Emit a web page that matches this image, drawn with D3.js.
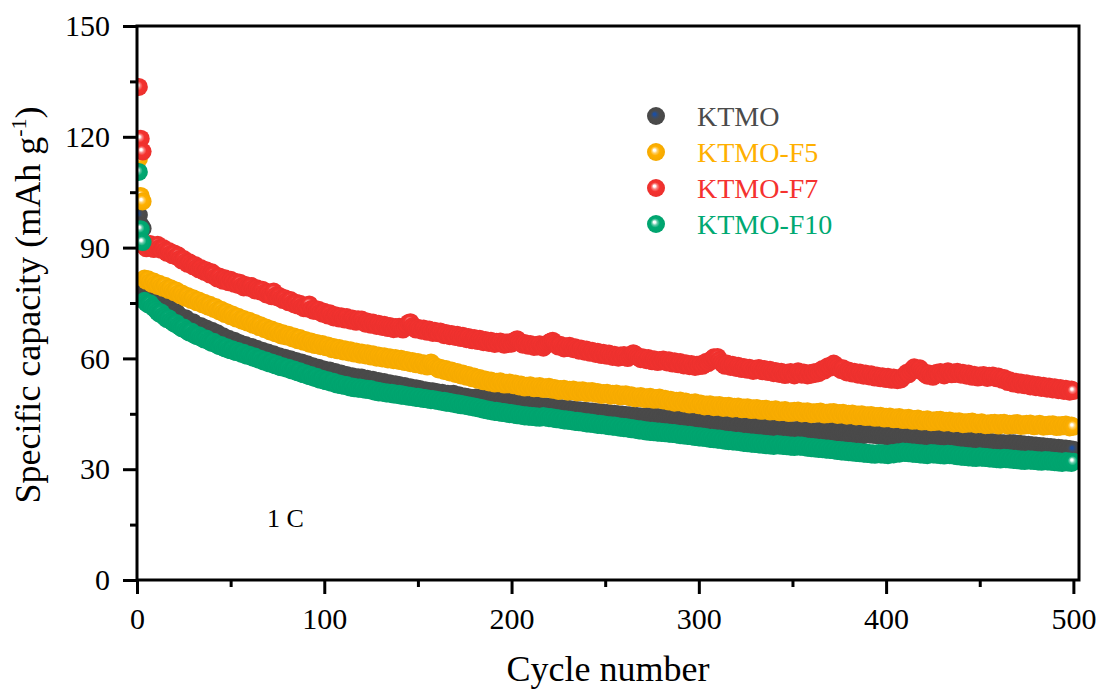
<!DOCTYPE html>
<html>
<head>
<meta charset="utf-8">
<script src="https://cdn.jsdelivr.net/npm/d3@7"></script>
<style>
  body { margin: 0; background: #fff; }
  svg { display: block; }
  text { font-family: "Liberation Serif", "Times New Roman", serif; }
</style>
</head>
<body>
<svg id="chart" width="1102" height="691"></svg>
<script>
// Discharge capacity (mAh g-1) per cycle at 1 C, cycles 1..500
const cycles = d3.range(1, 501);

const ktmo = [
  98.8, 96.0, 95.2, 78.0, 77.4, 77.0, 76.6, 76.9, 76.1, 75.7, 75.2, 74.7, 75.0, 74.3, 73.9, 73.5, 73.8, 73.1, 72.7, 72.3,
  72.5, 71.8, 71.3, 71.0, 70.6, 70.9, 70.2, 69.8, 69.5, 69.8, 69.1, 68.8, 68.5, 68.8, 68.2, 67.9, 68.1, 67.5, 67.2, 67.5,
  66.9, 66.5, 66.8, 66.1, 65.8, 66.0, 65.4, 65.1, 65.3, 64.7, 64.5, 64.8, 64.2, 63.9, 64.1, 63.6, 63.3, 63.6, 63.0, 62.8,
  63.1, 62.6, 62.3, 62.6, 62.1, 61.8, 62.1, 61.5, 61.3, 61.6, 61.0, 60.8, 61.1, 60.6, 60.3, 60.6, 60.1, 59.8, 60.2, 59.7,
  59.5, 59.8, 59.3, 59.0, 59.3, 58.8, 58.5, 58.9, 58.3, 58.0, 58.4, 57.8, 57.6, 57.9, 57.4, 57.1, 57.5, 56.9, 56.7, 57.0,
  56.5, 56.3, 56.7, 56.1, 55.9, 56.3, 55.7, 55.5, 55.9, 55.3, 55.1, 55.5, 55.0, 54.8, 55.2, 54.7, 54.5, 54.9, 54.4, 54.8,
  54.3, 54.1, 54.5, 54.0, 53.8, 54.2, 53.7, 53.5, 53.9, 53.4, 53.2, 53.6, 53.1, 52.9, 53.3, 52.8, 52.6, 53.0, 52.5, 52.8,
  52.3, 52.1, 52.5, 52.0, 51.8, 52.2, 51.7, 51.5, 51.9, 51.4, 51.7, 51.2, 51.0, 51.4, 50.9, 51.2, 50.8, 51.1, 50.6, 50.9,
  50.5, 50.3, 50.7, 50.2, 50.0, 50.4, 49.9, 50.2, 50.4, 49.8, 49.6, 50.0, 49.5, 49.3, 49.7, 49.2, 49.5, 49.0, 49.3, 48.9,
  49.4, 49.0, 49.3, 48.9, 49.2, 48.8, 49.1, 48.7, 49.0, 48.5, 48.8, 48.4, 48.7, 48.3, 48.6, 48.1, 48.5, 48.0, 48.3, 47.9,
  48.2, 47.8, 48.1, 47.6, 47.9, 47.5, 47.8, 47.3, 47.6, 47.2, 47.5, 47.0, 47.4, 46.9, 47.2, 46.8, 47.1, 46.7, 47.0, 46.6,
  46.9, 46.5, 46.8, 46.3, 46.6, 46.2, 46.5, 46.1, 46.4, 45.9, 46.3, 45.8, 46.1, 45.7, 46.0, 45.6, 45.9, 45.5, 45.8, 45.4,
  45.7, 45.3, 45.6, 45.2, 45.5, 45.1, 45.4, 45.0, 45.3, 44.9, 45.2, 44.8, 45.1, 44.7, 45.0, 44.6, 44.9, 44.5, 44.8, 44.4,
  44.7, 44.3, 44.6, 44.2, 44.5, 44.1, 44.4, 44.0, 44.3, 43.9, 44.2, 44.4, 44.0, 44.3, 43.9, 44.2, 43.8, 44.1, 43.7, 44.0,
  43.6, 43.9, 44.1, 43.7, 44.0, 43.6, 43.9, 43.5, 43.8, 43.4, 43.7, 43.3, 43.5, 43.1, 43.4, 43.0, 43.3, 42.9, 43.1, 42.7,
  43.0, 42.6, 42.8, 42.4, 42.7, 42.3, 42.5, 42.1, 42.4, 42.0, 42.3, 41.9, 42.1, 41.8, 42.0, 41.6, 41.9, 41.5, 41.8, 41.5,
  41.8, 41.4, 41.7, 41.3, 41.6, 41.8, 41.4, 41.7, 41.3, 41.6, 41.2, 41.5, 41.1, 41.4, 41.0, 41.3, 40.9, 41.2, 40.8, 41.1,
  40.7, 41.0, 40.6, 40.9, 40.5, 40.8, 40.4, 40.7, 40.3, 40.6, 40.2, 40.5, 40.7, 40.3, 40.6, 40.2, 40.5, 40.1, 40.4, 40.0,
  40.3, 39.9, 40.2, 40.4, 40.0, 40.3, 39.9, 40.2, 40.5, 40.1, 40.4, 40.0, 40.3, 39.9, 40.2, 39.8, 40.1, 39.7, 40.0, 39.6,
  39.9, 39.5, 39.8, 39.4, 39.7, 39.3, 39.6, 39.2, 39.5, 39.8, 39.4, 39.7, 39.3, 39.6, 39.2, 39.5, 39.1, 39.4, 39.0, 39.3,
  38.9, 39.2, 38.8, 39.1, 38.7, 39.0, 38.6, 38.9, 39.1, 38.7, 39.0, 38.6, 38.9, 38.5, 38.8, 38.4, 38.7, 38.3, 38.6, 38.9,
  38.5, 38.8, 38.4, 38.7, 38.3, 38.6, 38.2, 38.5, 38.1, 38.4, 38.0, 38.3, 38.5, 38.1, 38.4, 38.0, 38.3, 37.9, 38.2, 37.8,
  38.1, 37.7, 38.0, 37.6, 37.9, 37.5, 37.8, 37.4, 37.7, 37.3, 37.6, 37.2, 37.5, 37.1, 37.4, 37.0, 37.3, 36.9, 37.2, 36.8,
  37.1, 36.7, 37.0, 36.6, 36.9, 37.1, 36.7, 37.0, 36.6, 36.9, 36.5, 36.8, 36.4, 36.7, 36.3, 36.6, 36.2, 36.5, 36.1, 36.4,
  36.0, 36.3, 35.9, 36.2, 35.8, 36.1, 35.7, 36.0, 35.6, 35.9, 35.5, 35.8, 35.4, 35.7, 35.3, 35.6, 35.2, 35.5, 35.1, 35.3
];

const ktmoF5 = [
  114.0, 104.0, 102.5, 81.6, 81.0, 81.4, 80.7, 80.2, 80.8, 80.1, 79.6, 80.2, 79.5, 79.1, 79.7, 78.9, 78.5, 79.0, 78.3, 77.9,
  78.4, 77.6, 77.1, 77.6, 76.9, 76.4, 76.9, 76.2, 75.8, 76.3, 75.6, 75.2, 75.7, 75.0, 74.6, 75.1, 74.4, 74.0, 74.5, 73.8,
  73.4, 73.9, 73.1, 72.7, 73.2, 72.4, 72.0, 72.5, 71.8, 71.4, 71.9, 71.2, 70.8, 71.3, 70.6, 70.2, 70.7, 70.0, 69.7, 70.2,
  69.5, 69.1, 69.6, 68.9, 68.5, 69.0, 68.3, 67.9, 68.4, 67.7, 67.3, 67.8, 67.2, 66.8, 67.3, 66.6, 66.2, 66.8, 66.1, 65.9,
  66.4, 65.8, 65.4, 65.9, 65.3, 64.9, 65.5, 64.8, 64.5, 65.0, 64.4, 64.0, 64.6, 64.0, 63.6, 64.2, 63.7, 63.3, 63.9, 63.4,
  63.0, 63.5, 62.9, 62.5, 63.1, 62.6, 62.2, 62.8, 62.3, 61.9, 62.5, 62.0, 61.6, 62.2, 61.7, 61.3, 61.9, 61.4, 61.0, 61.6,
  61.2, 60.8, 61.4, 60.9, 60.5, 61.1, 60.6, 60.2, 60.8, 60.4, 60.0, 60.6, 60.1, 59.7, 60.3, 59.9, 59.5, 60.1, 59.7, 59.3,
  59.9, 59.4, 59.0, 59.6, 59.1, 58.7, 59.3, 58.8, 58.4, 59.0, 58.5, 58.1, 58.7, 58.2, 57.8, 58.4, 58.9, 58.3, 57.9, 57.4,
  57.0, 57.5, 57.0, 56.6, 57.1, 56.6, 56.2, 56.7, 56.2, 55.8, 56.3, 55.8, 55.4, 55.9, 55.4, 55.0, 55.5, 55.0, 54.6, 55.1,
  54.6, 54.2, 54.7, 54.2, 53.8, 54.3, 53.9, 53.5, 54.0, 53.6, 53.2, 53.7, 53.3, 53.8, 53.3, 52.9, 53.4, 53.0, 53.5, 53.1,
  52.7, 53.2, 52.8, 52.4, 52.9, 52.5, 52.1, 52.6, 52.2, 52.7, 52.3, 51.9, 52.4, 52.0, 52.5, 52.1, 51.7, 52.2, 51.8, 52.3,
  51.9, 51.5, 52.0, 51.6, 51.2, 51.7, 51.3, 51.8, 51.4, 51.0, 51.5, 51.1, 51.6, 51.2, 50.8, 51.3, 50.9, 51.4, 51.0, 50.6,
  51.1, 50.7, 51.2, 50.8, 50.4, 50.9, 50.5, 50.1, 50.6, 50.2, 50.7, 50.3, 49.9, 50.4, 50.0, 50.5, 50.1, 49.7, 50.2, 49.8,
  50.3, 49.9, 49.5, 50.0, 49.6, 49.2, 49.7, 49.3, 49.8, 49.4, 49.0, 49.5, 49.1, 49.6, 49.2, 48.8, 49.3, 48.9, 49.4, 49.0,
  48.6, 49.1, 48.7, 48.3, 48.8, 48.4, 48.0, 48.5, 48.1, 48.6, 48.2, 47.8, 48.3, 47.9, 47.5, 48.0, 47.6, 48.1, 47.7, 47.3,
  47.8, 47.4, 47.0, 47.5, 47.1, 47.6, 47.2, 46.8, 47.3, 46.9, 47.4, 47.0, 46.6, 47.1, 46.7, 47.2, 46.8, 46.4, 46.9, 46.5,
  47.0, 46.6, 46.2, 46.7, 46.3, 46.8, 46.4, 46.0, 46.5, 46.1, 46.6, 46.2, 45.8, 46.3, 45.9, 46.4, 46.0, 45.6, 46.1, 45.7,
  46.2, 45.8, 45.4, 45.9, 45.5, 46.0, 45.6, 45.2, 45.7, 45.3, 45.8, 45.4, 45.9, 45.5, 45.1, 45.6, 45.2, 45.7, 45.3, 44.9,
  45.4, 45.0, 45.5, 45.1, 45.6, 45.2, 44.8, 45.3, 44.9, 45.4, 45.0, 45.5, 45.1, 44.7, 45.2, 44.8, 45.3, 44.9, 44.5, 45.0,
  44.6, 45.1, 44.7, 44.3, 44.8, 44.4, 44.9, 44.5, 44.1, 44.6, 44.2, 44.7, 44.3, 43.9, 44.4, 44.0, 44.5, 44.1, 43.7, 44.2,
  43.8, 44.3, 43.9, 43.5, 44.0, 43.6, 44.1, 43.7, 43.3, 43.8, 43.4, 43.9, 43.5, 43.1, 43.6, 43.2, 43.7, 43.3, 42.9, 43.4,
  43.0, 43.5, 43.1, 42.7, 43.2, 42.8, 43.3, 42.9, 43.4, 43.0, 42.6, 43.1, 42.7, 43.2, 42.8, 42.4, 42.9, 42.5, 43.0, 42.6,
  42.2, 42.7, 42.3, 42.8, 42.4, 42.9, 42.5, 42.1, 42.6, 42.2, 42.7, 42.3, 41.9, 42.4, 42.0, 42.5, 42.1, 42.6, 42.2, 41.8,
  42.5, 42.1, 42.6, 42.2, 41.8, 42.3, 41.9, 42.4, 42.0, 42.5, 42.1, 41.7, 42.2, 41.8, 42.3, 41.9, 42.4, 42.0, 41.6, 42.1,
  41.8, 42.3, 41.9, 41.5, 42.0, 41.6, 42.1, 41.7, 42.2, 41.8, 41.4, 41.9, 41.5, 42.0, 41.6, 42.1, 41.7, 41.3, 41.8, 41.5
];

const ktmoF7 = [
  133.5, 119.5, 116.0, 90.4, 89.8, 90.6, 91.0, 90.2, 89.6, 90.3, 90.8, 89.9, 89.4, 89.9, 89.2, 88.6, 89.1, 88.3, 87.9, 88.4,
  87.6, 87.9, 87.0, 86.5, 86.9, 86.1, 85.6, 86.0, 85.4, 84.9, 85.3, 84.6, 84.1, 84.5, 83.9, 83.4, 83.9, 83.2, 82.7, 83.3,
  82.8, 82.0, 81.6, 82.2, 81.5, 81.0, 81.7, 81.2, 80.6, 81.3, 80.8, 80.2, 80.7, 79.9, 80.5, 79.6, 79.2, 79.9, 79.3, 79.1,
  79.6, 78.9, 78.4, 79.0, 78.5, 78.1, 78.6, 77.8, 77.3, 77.9, 77.2, 76.8, 78.1, 77.0, 76.5, 76.9, 76.2, 75.8, 76.3, 75.6,
  75.2, 75.8, 75.0, 74.6, 75.1, 74.3, 74.8, 74.0, 73.6, 74.1, 73.5, 74.6, 73.4, 72.9, 73.4, 72.8, 73.2, 72.5, 72.1, 72.6,
  72.0, 71.6, 72.2, 71.5, 71.1, 71.7, 71.2, 70.8, 71.4, 70.9, 70.5, 71.2, 70.6, 70.2, 70.8, 70.3, 69.9, 70.6, 70.1, 70.5,
  69.8, 69.4, 70.0, 69.5, 69.1, 69.7, 69.2, 68.8, 69.4, 68.9, 68.5, 69.1, 68.6, 68.2, 68.8, 68.4, 67.9, 68.5, 68.1, 68.6,
  68.2, 67.8, 68.4, 68.9, 69.6, 69.8, 68.7, 68.2, 67.8, 68.3, 67.9, 67.5, 68.1, 67.6, 67.2, 67.8, 67.3, 66.9, 67.5, 67.1,
  66.8, 67.3, 66.7, 66.3, 66.9, 66.4, 66.0, 66.6, 66.2, 65.8, 66.4, 65.9, 65.5, 66.1, 65.6, 65.2, 65.8, 65.3, 64.9, 65.5,
  65.1, 64.7, 65.3, 64.8, 64.4, 65.0, 64.6, 64.2, 64.8, 64.3, 63.9, 64.5, 64.1, 64.6, 64.0, 63.7, 64.3, 63.9, 64.4, 64.0,
  64.5, 64.9, 65.2, 64.6, 64.1, 63.7, 64.2, 63.8, 63.4, 63.9, 63.5, 63.1, 63.6, 63.2, 63.8, 63.3, 62.9, 63.5, 63.9, 64.3,
  64.6, 64.8, 64.2, 63.6, 63.2, 63.7, 63.1, 62.7, 63.3, 62.8, 63.4, 62.9, 62.5, 63.0, 62.5, 62.1, 62.7, 62.2, 61.8, 62.4,
  61.9, 61.5, 62.1, 61.6, 61.2, 61.8, 61.3, 60.9, 61.5, 61.1, 60.7, 61.3, 60.8, 60.4, 61.0, 60.6, 60.2, 60.8, 60.4, 60.9,
  60.5, 60.1, 60.7, 61.0, 61.4, 61.1, 60.6, 60.2, 59.8, 60.3, 59.9, 59.5, 60.1, 59.6, 59.2, 59.8, 59.4, 59.0, 59.6, 59.2,
  59.7, 59.3, 58.9, 59.5, 59.0, 58.6, 59.2, 58.8, 58.4, 59.0, 58.5, 58.1, 58.7, 58.3, 57.9, 58.5, 58.0, 57.7, 58.3, 57.9,
  58.4, 58.0, 58.6, 59.1, 58.7, 59.3, 59.8, 60.3, 59.9, 60.4, 59.6, 58.9, 58.4, 58.0, 58.6, 58.1, 57.7, 58.3, 57.8, 57.4,
  58.0, 57.5, 57.1, 57.7, 57.3, 56.9, 57.5, 57.0, 56.6, 57.2, 56.8, 57.4, 56.9, 56.5, 57.1, 56.7, 56.3, 56.9, 56.4, 56.0,
  56.6, 56.2, 55.8, 56.4, 55.9, 55.5, 56.1, 55.7, 56.3, 55.8, 55.4, 56.0, 56.5, 56.1, 55.6, 56.2, 55.8, 55.4, 56.0, 55.6,
  56.2, 55.8, 56.4, 56.0, 56.6, 57.1, 56.7, 57.4, 57.9, 57.5, 58.1, 58.6, 58.2, 57.7, 57.2, 56.8, 57.3, 56.6, 56.2, 56.7,
  56.3, 55.9, 56.4, 56.0, 55.6, 56.2, 55.7, 55.3, 55.9, 55.5, 55.1, 55.7, 55.2, 54.8, 55.4, 55.0, 54.6, 55.2, 54.8, 54.4,
  55.0, 54.6, 54.2, 54.8, 54.4, 54.1, 54.7, 54.3, 54.9, 55.5, 56.1, 55.7, 56.4, 57.0, 57.6, 57.2, 56.8, 57.3, 56.7, 56.2,
  55.7, 55.3, 55.9, 55.4, 55.0, 55.6, 56.1, 55.7, 56.3, 55.8, 55.4, 56.0, 56.5, 56.1, 55.7, 56.2, 55.8, 56.4, 56.0, 55.6,
  56.1, 55.7, 55.3, 55.9, 55.4, 55.0, 55.6, 55.2, 54.8, 55.4, 55.0, 55.5, 55.1, 54.7, 55.3, 54.9, 55.4, 55.0, 54.6, 55.1,
  54.6, 54.2, 54.7, 54.1, 53.6, 54.1, 53.6, 53.2, 53.7, 53.3, 52.9, 53.5, 53.1, 52.7, 53.3, 52.8, 52.4, 53.0, 52.6, 52.2,
  52.8, 52.4, 52.0, 52.6, 52.2, 51.8, 52.4, 52.0, 51.6, 52.2, 51.8, 51.4, 52.0, 51.6, 51.2, 51.8, 51.4, 51.0, 51.6, 51.2
];

const ktmoF10 = [
  110.5, 95.0, 91.5, 75.6, 75.0, 74.6, 74.9, 74.1, 73.7, 73.2, 72.6, 72.1, 72.4, 71.6, 71.1, 70.6, 70.9, 70.2, 69.8, 69.4,
  69.6, 68.9, 68.5, 68.1, 68.4, 67.7, 67.3, 67.0, 67.3, 66.6, 66.3, 66.0, 66.3, 65.7, 65.4, 65.1, 65.4, 64.8, 64.5, 64.2,
  64.5, 63.9, 63.6, 63.3, 63.6, 63.0, 62.7, 63.0, 62.4, 62.2, 62.5, 61.9, 61.7, 62.0, 61.5, 61.2, 61.5, 60.9, 60.7, 61.0,
  60.5, 60.2, 60.5, 59.9, 59.7, 59.9, 59.3, 59.1, 59.4, 58.8, 58.6, 58.9, 58.3, 58.1, 58.4, 57.8, 57.6, 57.9, 57.4, 57.2,
  57.5, 56.9, 56.7, 57.0, 56.4, 56.2, 56.5, 55.9, 55.7, 56.0, 55.4, 55.2, 55.5, 54.9, 54.7, 55.0, 54.4, 54.2, 54.5, 54.0,
  53.8, 54.1, 53.6, 53.4, 53.7, 53.1, 52.9, 53.2, 52.7, 52.9, 52.5, 52.8, 52.3, 52.1, 52.4, 51.9, 52.2, 51.8, 52.1, 51.7,
  51.9, 51.5, 51.8, 51.4, 51.7, 51.2, 51.0, 51.3, 50.8, 51.1, 50.7, 50.9, 50.5, 50.8, 50.4, 50.7, 50.2, 50.5, 50.1, 50.4,
  49.9, 50.2, 49.8, 50.0, 49.6, 49.9, 49.5, 49.7, 49.3, 49.6, 49.2, 49.4, 49.0, 49.3, 48.9, 49.1, 48.7, 49.0, 48.6, 48.8,
  48.4, 48.6, 48.2, 48.5, 48.0, 48.3, 47.9, 48.1, 47.7, 47.9, 47.5, 47.8, 47.3, 47.6, 47.2, 47.4, 47.0, 47.2, 46.8, 47.0,
  46.6, 46.8, 46.4, 46.6, 46.1, 46.3, 45.9, 46.1, 45.7, 45.9, 45.5, 45.8, 45.4, 45.6, 45.2, 45.5, 45.1, 45.3, 44.9, 45.2,
  44.8, 45.0, 44.6, 44.9, 44.5, 44.7, 44.3, 44.6, 44.2, 44.5, 44.1, 44.4, 44.0, 44.3, 43.9, 44.2, 44.4, 44.0, 44.2, 43.8,
  44.1, 43.7, 43.9, 43.5, 43.8, 43.4, 43.6, 43.2, 43.5, 43.1, 43.4, 43.0, 43.2, 42.8, 43.1, 42.7, 43.0, 42.6, 42.8, 42.4,
  42.7, 42.3, 42.6, 42.2, 42.4, 42.0, 42.3, 41.9, 42.2, 41.8, 42.0, 41.6, 41.9, 41.5, 41.8, 41.4, 41.6, 41.2, 41.5, 41.1,
  41.4, 41.0, 41.2, 40.8, 41.1, 40.7, 40.9, 40.5, 40.8, 40.4, 40.6, 40.2, 40.5, 40.1, 40.4, 40.0, 40.3, 39.9, 40.2, 39.8,
  40.1, 39.7, 40.0, 39.6, 39.9, 39.5, 39.8, 39.4, 39.6, 39.2, 39.5, 39.1, 39.4, 39.0, 39.3, 38.9, 39.1, 38.7, 39.0, 38.6,
  38.9, 38.5, 38.8, 38.4, 38.6, 38.2, 38.5, 38.1, 38.4, 38.0, 38.3, 37.9, 38.1, 37.7, 38.0, 37.6, 37.9, 37.5, 37.7, 37.4,
  37.7, 37.3, 37.5, 37.1, 37.4, 37.0, 37.3, 36.9, 37.2, 36.8, 37.1, 36.7, 37.0, 36.6, 36.9, 36.5, 36.8, 36.4, 36.7, 36.3,
  36.6, 36.8, 36.4, 36.7, 36.3, 36.6, 36.2, 36.5, 36.1, 36.4, 36.0, 36.3, 36.5, 36.1, 36.4, 36.0, 36.2, 35.8, 36.1, 35.7,
  36.0, 35.6, 35.9, 35.5, 35.8, 35.4, 35.7, 35.3, 35.6, 35.2, 35.5, 35.1, 35.3, 34.9, 35.2, 34.8, 35.1, 34.7, 35.0, 34.6,
  34.9, 34.5, 34.8, 34.4, 34.7, 34.3, 34.6, 34.2, 34.5, 34.1, 34.4, 34.0, 34.3, 33.9, 34.2, 34.4, 34.0, 34.3, 33.9, 34.2,
  33.8, 34.1, 34.4, 34.0, 34.3, 34.6, 34.2, 34.5, 34.8, 34.4, 34.7, 34.3, 34.6, 34.2, 34.5, 34.1, 34.4, 34.0, 34.3, 33.9,
  34.2, 33.8, 34.1, 34.4, 34.0, 34.3, 33.9, 34.2, 33.8, 34.1, 33.7, 34.0, 34.2, 33.8, 34.1, 33.7, 33.9, 33.5, 33.8, 33.4,
  33.7, 33.3, 33.6, 33.2, 33.5, 33.1, 33.4, 33.0, 33.3, 33.5, 33.1, 33.4, 33.0, 33.3, 32.9, 33.2, 32.8, 33.1, 32.7, 33.0,
  32.6, 32.9, 33.1, 32.7, 33.0, 32.6, 32.9, 32.5, 32.8, 32.4, 32.7, 32.3, 32.6, 32.2, 32.5, 32.7, 32.3, 32.6, 32.2, 32.5,
  32.1, 32.4, 32.0, 32.3, 32.5, 32.1, 32.4, 32.0, 32.3, 31.9, 32.2, 31.8, 32.1, 31.7, 32.0, 32.2, 31.8, 32.1, 31.7, 32.0
];

const seriesNames = ["KTMO", "KTMO-F5", "KTMO-F7", "KTMO-F10"];
const seriesValues = [ktmo, ktmoF5, ktmoF7, ktmoF10];
const seriesColors = ["#4b4b4b", "#ffb000", "#f5322f", "#00a972"];
const sheenColors = ["#1c4fa3", "#ffffff", "#ffffff", "#ffffff"];

const xTicks = [0, 100, 200, 300, 400, 500];
const xMinorTicks = [50, 150, 250, 350, 450];
const yTicks = [0, 30, 60, 90, 120, 150];
const yMinorTicks = [15, 45, 75, 105, 135];

const svg = d3.select("#chart");
const plot = { left: 137, top: 26, right: 1079, bottom: 580 };

const x = d3.scaleLinear().domain([0, 503]).range([plot.left, plot.right]);
const y = d3.scaleLinear().domain([0, 150]).range([plot.bottom, plot.top]);

// sphere-like shading for the markers
const defs = svg.append("defs");
seriesNames.forEach((name, i) => {
  const g = defs.append("radialGradient")
    .attr("id", "ball" + i)
    .attr("cx", "0.5").attr("cy", "0.5").attr("r", "0.5")
    .attr("fx", "0.4").attr("fy", "0.38");
  const c = d3.color(seriesColors[i]);
  const sheen = sheenColors[i];
  g.append("stop").attr("offset", "0%").attr("stop-color", sheen);
  g.append("stop").attr("offset", "12%").attr("stop-color", sheen);
  g.append("stop").attr("offset", "30%").attr("stop-color", d3.interpolateRgb(sheen, c)(0.6));
  g.append("stop").attr("offset", "52%").attr("stop-color", c.formatHex());
  g.append("stop").attr("offset", "100%").attr("stop-color", c.darker(0.12).formatHex());
});

defs.append("clipPath").attr("id", "plotClip")
  .append("rect")
  .attr("x", plot.left).attr("y", plot.top)
  .attr("width", plot.right - plot.left).attr("height", plot.bottom - plot.top);

// data markers
const marks = svg.append("g").attr("clip-path", "url(#plotClip)");
seriesValues.forEach((vals, i) => {
  marks.append("g")
    .selectAll("circle")
    .data(cycles.map((c, k) => ({ c, v: vals[k] })))
    .join("circle")
    .attr("cx", d => x(d.c))
    .attr("cy", d => y(d.v))
    .attr("r", 9)
    .attr("fill", `url(#ball${i})`);
});

// frame
svg.append("rect")
  .attr("x", plot.left).attr("y", plot.top)
  .attr("width", plot.right - plot.left).attr("height", plot.bottom - plot.top)
  .attr("fill", "none").attr("stroke", "#000").attr("stroke-width", 3);

function styleAxis(g) {
  g.select(".domain").remove();
  g.selectAll(".tick line").attr("stroke", "#000").attr("stroke-width", 3);
  g.selectAll(".tick text").attr("fill", "#000")
    .style("font-family", '"Liberation Serif", "Times New Roman", serif')
    .style("font-size", "30px");
}

svg.append("g").attr("transform", `translate(0,${plot.bottom})`)
  .call(d3.axisBottom(x).tickValues(xTicks).tickSize(14).tickPadding(14).tickFormat(d3.format("d")))
  .call(styleAxis);
svg.append("g").attr("transform", `translate(0,${plot.bottom})`)
  .call(d3.axisBottom(x).tickValues(xMinorTicks).tickSize(7).tickFormat(""))
  .call(styleAxis);
svg.append("g").attr("transform", `translate(${plot.left},0)`)
  .call(d3.axisLeft(y).tickValues(yTicks).tickSize(14).tickPadding(13).tickFormat(d3.format("d")))
  .call(styleAxis);
svg.append("g").attr("transform", `translate(${plot.left},0)`)
  .call(d3.axisLeft(y).tickValues(yMinorTicks).tickSize(7).tickFormat(""))
  .call(styleAxis);

// axis titles
svg.append("text")
  .attr("x", (plot.left + plot.right) / 2).attr("y", 681)
  .attr("text-anchor", "middle")
  .style("font-size", "36px")
  .text("Cycle number");

const yTitle = svg.append("text")
  .attr("transform", "translate(40,305) rotate(-90)")
  .attr("text-anchor", "middle")
  .style("font-size", "36px");
yTitle.append("tspan").text("Specific capacity (mAh g");
yTitle.append("tspan").attr("dy", -14).style("font-size", "22px").text("-1");
yTitle.append("tspan").attr("dy", 14).text(")");

// rate annotation
svg.append("text")
  .attr("x", 267).attr("y", 527)
  .style("font-size", "26px")
  .text("1 C");

// legend
const legend = svg.append("g");
seriesNames.forEach((name, i) => {
  const ly = 116 + i * 36;
  legend.append("circle")
    .attr("cx", 656).attr("cy", ly).attr("r", 9)
    .attr("fill", `url(#ball${i})`);
  legend.append("text")
    .attr("x", 697).attr("y", ly + 10)
    .attr("fill", seriesColors[i])
    .style("font-size", "28px")
    .text(name);
});
</script>
</body>
</html>
